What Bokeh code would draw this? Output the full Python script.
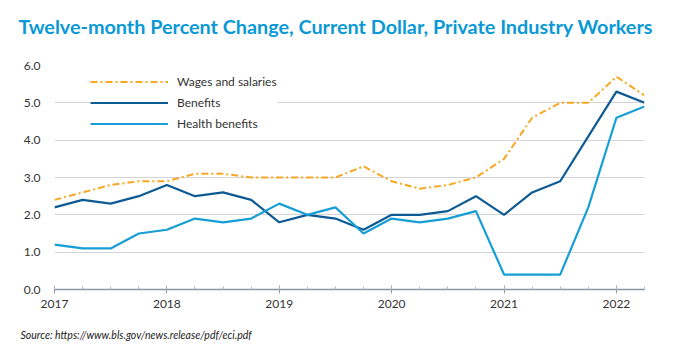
from bokeh.plotting import figure
from bokeh.models import (Range1d, FixedTicker, Legend, LegendItem, Title)
from bokeh.embed import file_html
from bokeh.resources import INLINE

# ---- data ----
quarters = [2017.0, 2017.25, 2017.5, 2017.75,
            2018.0, 2018.25, 2018.5, 2018.75,
            2019.0, 2019.25, 2019.5, 2019.75,
            2020.0, 2020.25, 2020.5, 2020.75,
            2021.0, 2021.25, 2021.5, 2021.75,
            2022.0, 2022.25]
wages = [2.4, 2.6, 2.8, 2.9, 2.9, 3.1, 3.1, 3.0, 3.0, 3.0, 3.0, 3.3,
         2.9, 2.7, 2.8, 3.0, 3.5, 4.6, 5.0, 5.0, 5.7, 5.2]
benefits = [2.2, 2.4, 2.3, 2.5, 2.8, 2.5, 2.6, 2.4, 1.8, 2.0, 1.9, 1.6,
            2.0, 2.0, 2.1, 2.5, 2.0, 2.6, 2.9, 4.1, 5.3, 5.0]
health = [1.2, 1.1, 1.1, 1.5, 1.6, 1.9, 1.8, 1.9, 2.3, 2.0, 2.2, 1.5,
          1.9, 1.8, 1.9, 2.1, 0.4, 0.4, 0.4, 2.2, 4.6, 4.9]
year_ticks = [2017, 2018, 2019, 2020, 2021, 2022]
year_labels = ["2017", "2018", "2019", "2020", "2021", "2022"]
y_ticks = [0, 1, 2, 3, 4, 5, 6]
y_labels = ["0.0", "1.0", "2.0", "3.0", "4.0", "5.0", "6.0"]
series_names = ["Wages and salaries", "Benefits", "Health benefits"]

title_text = "Twelve-month Percent Change, Current Dollar, Private Industry Workers"
source_text = "Source: https://www.bls.gov/news.release/pdf/eci.pdf"

ORANGE = "#f7a823"
DARK = "#0d5a94"
LIGHT = "#169ed5"
TITLE_C = "#0a99d6"
FONT = "Lato"

p = figure(width=666, height=352, output_backend="svg", toolbar_location=None,
           x_range=Range1d(quarters[0], quarters[-1]), y_range=Range1d(0, 6),
           min_border_left=54, min_border_right=22, min_border_top=65,
           min_border_bottom=63)
p.outline_line_color = None
p.background_fill_color = "white"
p.border_fill_color = "white"

r1 = p.line(quarters, wages, line_color=ORANGE, line_width=2, line_dash="7 3 2 3")
r2 = p.line(quarters, benefits, line_color=DARK, line_width=2.2)
r3 = p.line(quarters, health, line_color=LIGHT, line_width=2.2)

# titles (a thin spacer sits between the frame and the main title)
top_spacer = Title(text=" ", text_font_size="1px", standoff=20)
p.add_layout(top_spacer, "above")

p.title.text = title_text
p.title.text_font = FONT
p.title.text_font_style = "bold"
p.title.text_font_size = "19.8px"
p.title.text_color = TITLE_C
p.title.align = "left"
p.title.offset = -36
p.title.standoff = 10

spacer = Title(text=" ", text_font_size="1px", standoff=8)
p.add_layout(spacer, "below")
src = Title(text=source_text, text_font=FONT, text_font_style="italic",
            text_font_size="10.5px", text_color="#222222", align="left",
            offset=-34, standoff=10)
p.add_layout(src, "below")

# axes
p.xaxis.ticker = FixedTicker(ticks=year_ticks, minor_ticks=quarters)
p.xaxis.major_label_overrides = {t: l for t, l in zip(year_ticks, year_labels)}
p.xaxis.axis_line_color = "#8a98a6"
p.xaxis.axis_line_width = 1.5
p.xaxis.major_tick_line_color = "#8a98a6"
p.xaxis.minor_tick_line_color = "#b0b8c0"
p.xaxis.major_tick_in = 4
p.xaxis.major_tick_out = 4
p.xaxis.minor_tick_in = 3
p.xaxis.minor_tick_out = 0
p.xaxis.major_label_standoff = 6
p.xaxis.major_label_text_font = FONT
p.xaxis.major_label_text_font_size = "12px"
p.xaxis.major_label_text_color = "#333333"

p.yaxis.ticker = FixedTicker(ticks=y_ticks)
p.yaxis.major_label_overrides = {t: l for t, l in zip(y_ticks, y_labels)}
p.yaxis.axis_line_color = None
p.yaxis.major_tick_line_color = None
p.yaxis.minor_tick_line_color = None
p.yaxis.major_label_standoff = 8
p.yaxis.major_label_text_font = FONT
p.yaxis.major_label_text_font_size = "12px"
p.yaxis.major_label_text_color = "#333333"

p.xgrid.grid_line_color = None
p.ygrid.grid_line_color = "#d4d4d4"
p.ygrid.grid_line_width = 1

legend = Legend(items=[LegendItem(label=series_names[0], renderers=[r1]),
                       LegendItem(label=series_names[1], renderers=[r2]),
                       LegendItem(label=series_names[2], renderers=[r3])],
                location=(36, 156), orientation="vertical")
legend.border_line_color = None
legend.background_fill_color = "white"
legend.background_fill_alpha = 1.0
legend.glyph_width = 78
legend.glyph_height = 19
legend.label_height = 19
legend.spacing = 2
legend.padding = 6
legend.margin = 0
legend.label_standoff = 9
legend.label_text_font = FONT
legend.label_text_font_size = "12px"
legend.label_text_color = "#333333"
p.add_layout(legend, "center")

open("out.html", "w").write(file_html(p, INLINE))
